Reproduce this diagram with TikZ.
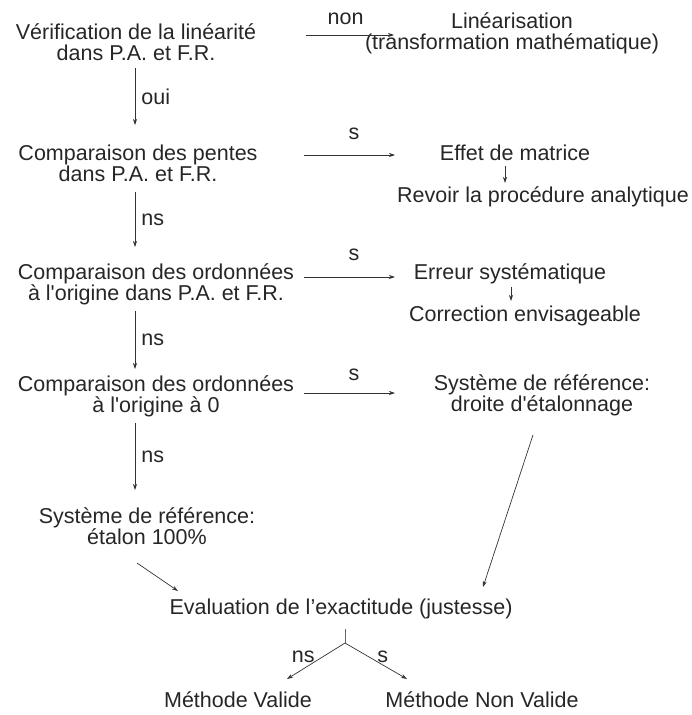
\documentclass[tikz,border=0pt]{standalone}
\usepackage{fontspec}
\setmainfont{Liberation Sans}
\usetikzlibrary{arrows.meta,positioning}
\begin{document}
\begin{tikzpicture}[x=1pt,y=-1pt,
  txt/.style={align=center, inner sep=0pt, font=\fontsize{21.5}{21}\selectfont, text=black!85},
  lbl/.style={inner sep=0pt, font=\fontsize{21.5}{21}\selectfont, text=black!85},
  arr/.style={-{Stealth[length=6pt,width=4pt]}, line width=0.7pt, draw=black!80},
  plain/.style={line width=0.7pt, draw=black!60}]
\useasboundingbox (0,0) rectangle (692,715);
% nodes
\node[txt] (v1)  at (136,42)  {Vérification de la linéarité\\dans P.A. et F.R.};
\node[txt] (lin) at (512,33)  {Linéarisation\\(transformation mathématique)};
\node[txt] (c1)  at (138,163) {Comparaison des pentes\\dans P.A. et F.R.};
\node[txt] (eff) at (515,153) {Effet de matrice};
\node[txt] (rev) at (543,197) {Revoir la procédure analytique};
\node[txt] (c2)  at (156,284) {Comparaison des ordonnées\\à l\textquotesingle origine dans P.A. et F.R.};
\node[txt] (err) at (510,274) {Erreur systématique};
\node[txt] (cor) at (525,316) {Correction envisageable};
\node[txt] (c3)  at (156,396) {Comparaison des ordonnées\\à l\textquotesingle origine à 0};
\node[txt] (dro) at (542,395) {Système de référence:\\droite d\textquotesingle étalonnage};
\node[txt] (eta) at (147,526) {Système de référence:\\étalon 100\%};
\node[txt] (eval) at (341,609) {Evaluation de l’exactitude (justesse)};
\node[txt] (mv)  at (238,700) {Méthode Valide};
\node[txt] (mnv) at (482,700) {Méthode Non Valide};
% connector end points
\coordinate (o1) at (135,68);  \coordinate (o2) at (135,125);
\coordinate (n1) at (135,192); \coordinate (n2) at (135,247);
\coordinate (n3) at (135,311); \coordinate (n4) at (135,369);
\coordinate (n5) at (135,423); \coordinate (n6) at (135,490);
\coordinate (h1a) at (306,35);  \coordinate (h1b) at (394,35);
\coordinate (h2a) at (304,155); \coordinate (h2b) at (395,155);
\coordinate (h3a) at (304,277); \coordinate (h3b) at (395,277);
\coordinate (h4a) at (304,393); \coordinate (h4b) at (395,393);
\coordinate (e1a) at (505,166); \coordinate (e1b) at (505,183);
\coordinate (e2a) at (511,287); \coordinate (e2b) at (511,301);
\coordinate (d1a) at (137,563); \coordinate (d1b) at (178,591);
\coordinate (d2a) at (533,435); \coordinate (d2b) at (483,587);
\coordinate (stem) at (345,629);
\coordinate (br) at (345,643);
\coordinate (mvt) at (287,679); \coordinate (mnvt) at (407,679);
% vertical chain
\draw[arr] (o1) -- node[lbl, right=6pt]{oui} (o2);
\draw[arr] (n1) -- node[lbl, right=6pt]{ns} (n2);
\draw[arr] (n3) -- node[lbl, right=6pt]{ns} (n4);
\draw[arr] (n5) -- node[lbl, right=6pt]{ns} (n6);
% horizontal
\draw[arr] (h1a) -- node[lbl, above=10pt, pos=0.45]{non} (h1b);
\draw[arr] (h2a) -- node[lbl, above=15pt, pos=0.55]{s} (h2b);
\draw[arr] (h3a) -- node[lbl, above=16pt, pos=0.55]{s} (h3b);
\draw[arr] (h4a) -- node[lbl, above=12pt, pos=0.55]{s} (h4b);
% small arrows right column
\draw[arr] (e1a) -- (e1b);
\draw[arr] (e2a) -- (e2b);
% diagonals
\draw[arr] (d1a) -- (d1b);
\draw[arr] (d2a) -- (d2b);
% branch
\draw[plain] (stem) -- (br);
\draw[arr] (br) -- node[lbl, pos=0.45, anchor=south east, xshift=-4pt, yshift=-4pt]{ns} (mvt);
\draw[arr] (br) -- node[lbl, pos=0.45, anchor=south west, xshift=4pt, yshift=-4pt]{s} (mnvt);
\end{tikzpicture}
\end{document}
